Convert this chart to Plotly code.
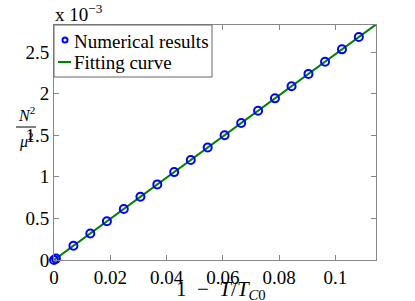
import plotly.graph_objects as go

# Data (y in units of 1e-3)
t_values = [0, 0.0007, 0.0069, 0.0129, 0.0188, 0.0248, 0.0307, 0.0367, 0.0427, 0.0486,
            0.0546, 0.0606, 0.0665, 0.0725, 0.0785, 0.0844, 0.0904, 0.0963, 0.1023,
            0.1083, 0.1143]
n2_mu2_e3 = [0, 0.017, 0.171, 0.319, 0.465, 0.614, 0.760, 0.909, 1.057, 1.203,
             1.352, 1.500, 1.647, 1.795, 1.944, 2.090, 2.238, 2.384, 2.533,
             2.681, 2.830]
fit_t = [0, 0.1143]
fit_y = [0, 2.830]
x_ticks = [0, 0.02, 0.04, 0.06, 0.08, 0.1]
x_tick_labels = ["0", "0.02", "0.04", "0.06", "0.08", "0.1"]
y_ticks = [0, 0.5, 1, 1.5, 2, 2.5]
y_tick_labels = ["0", "0.5", "1", "1.5", "2", "2.5"]
legend_names = ["Numerical results", "Fitting curve"]

FONT = "Liberation Serif, Times New Roman, serif"
W, H = 415, 301
L, R, T, B = 54, 39, 25, 41
PW, PH = W - L - R, H - T - B

def px(x):
    return (x - L) / PW

def py(y):
    return (H - B - y) / PH

BLUE = "#0000ff"
GREEN = "#008000"

fig = go.Figure()
fig.add_trace(go.Scatter(
    x=fit_t, y=fit_y, mode="lines", name=legend_names[1],
    line=dict(color=GREEN, width=2), showlegend=False,
))
fig.add_trace(go.Scatter(
    x=t_values, y=n2_mu2_e3, mode="markers", name=legend_names[0],
    marker=dict(symbol="circle-open", color=BLUE, size=8, line=dict(width=2, color=BLUE)),
    cliponaxis=False, showlegend=False,
))

axis_common = dict(
    showgrid=False, zeroline=False, ticks="inside", ticklen=5, tickcolor="#888",
    mirror="ticks", showline=True, linecolor="#888", linewidth=1,
    tickfont=dict(family=FONT, size=19, color="black"),
)
fig.update_xaxes(range=[0, 0.1144], tickvals=x_ticks, ticktext=x_tick_labels, **axis_common)
fig.update_yaxes(range=[0, 2.826], tickvals=y_ticks, ticktext=y_tick_labels, **axis_common)

annotations = [
    dict(text="x 10<sup>−3</sup>", xref="paper", yref="paper", x=px(53), y=py(27),
         xanchor="left", yanchor="bottom", showarrow=False,
         font=dict(family=FONT, size=19)),
    dict(text="1&nbsp;&nbsp;−&nbsp;&nbsp;<i>T</i>/<i>T</i><sub><i>C</i>0</sub>",
         xref="paper", yref="paper",
         x=px(221), y=py(275), xanchor="center", yanchor="top", showarrow=False,
         font=dict(family=FONT, size=21)),
    dict(text="<i>N</i><sup>2</sup>", xref="paper", yref="paper", x=px(26), y=py(126),
         xanchor="center", yanchor="bottom", showarrow=False,
         font=dict(family=FONT, size=16)),
    dict(text="<i>μ</i><sup>2</sup>", xref="paper", yref="paper", x=px(26), y=py(128),
         xanchor="center", yanchor="top", showarrow=False,
         font=dict(family=FONT, size=16)),
    dict(text=legend_names[0], xref="paper", yref="paper", x=px(72), y=py(41),
         xanchor="left", yanchor="middle", showarrow=False,
         font=dict(family=FONT, size=19)),
    dict(text=legend_names[1], xref="paper", yref="paper", x=px(72), y=py(62),
         xanchor="left", yanchor="middle", showarrow=False,
         font=dict(family=FONT, size=19)),
]

shapes = [
    # fraction bar of y label
    dict(type="line", xref="paper", yref="paper", x0=px(16), x1=px(36), y0=py(127), y1=py(127),
         line=dict(color="black", width=1)),
    # legend box
    dict(type="rect", xref="paper", yref="paper", x0=px(54), x1=px(212), y0=py(25), y1=py(77),
         line=dict(color="#666", width=1), fillcolor="white", layer="above"),
    # legend glyphs
    dict(type="circle", xref="paper", yref="paper", xsizemode="pixel", ysizemode="pixel",
         xanchor=px(65), yanchor=py(40), x0=-2.5, x1=2.5, y0=-2.5, y1=2.5,
         line=dict(color=BLUE, width=2), layer="above"),
    dict(type="line", xref="paper", yref="paper", x0=px(58), x1=px(71), y0=py(62), y1=py(62),
         line=dict(color=GREEN, width=2), layer="above"),
]

fig.update_layout(
    width=W, height=H,
    margin=dict(l=L, r=R, t=T, b=B),
    plot_bgcolor="white", paper_bgcolor="white",
    font=dict(family=FONT, size=19, color="black"),
    showlegend=False,
    annotations=annotations,
    shapes=shapes,
)

fig.write_html("out.html", config={"displayModeBar": False},
               post_script="document.body.style.margin='0';")
